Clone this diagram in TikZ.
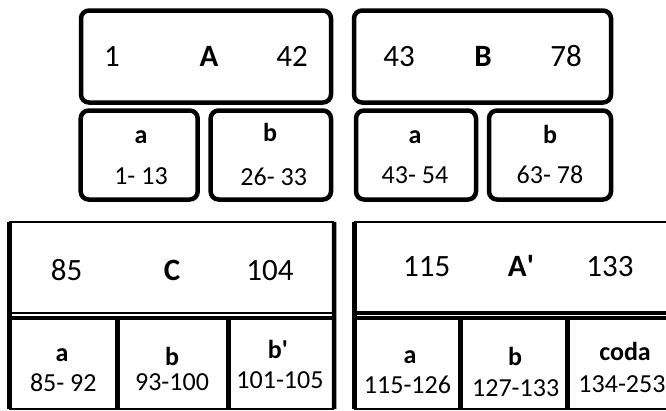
\documentclass[tikz,border=0pt]{standalone}
\usepackage{fontspec}
\setmainfont{Carlito}
\begin{document}
\begin{tikzpicture}[x=1pt,y=-1pt,
    secbox/.style={draw, line width=4.5pt, rounded corners=8pt, inner sep=0pt},
    cell/.style={inner sep=0pt},
    big/.style={font=\fontsize{31}{31}\selectfont, anchor=base, inner sep=0pt},
    bigb/.style={big, font=\fontsize{31}{31}\selectfont\bfseries},
    lab/.style={font=\fontsize{26}{26}\selectfont\bfseries, anchor=base, inner sep=0pt},
    rng/.style={font=\fontsize{26}{26}\selectfont, anchor=base, inner sep=0pt},
    heavy/.style={line width=4.5pt},
    light/.style={line width=1.6pt}]
    \clip (0,0) rectangle (666,410);
    % Section A
    \node[secbox, minimum width=250pt, minimum height=92pt] (A) at (206,56.5) {};
    \node[big] (A-lo) at (112,66.7) {1}; \node[bigb] (A-nm) at (209,66.7) {A}; \node[big] (A-hi) at (292,66.7) {42};
    \node[secbox, minimum width=117pt, minimum height=89pt] (Aa) at (139.2,155) {};
    \node[lab] (Aa-nm) at (141,143.3) {a}; \node[rng] (Aa-rg) at (141,184.3) {1- 13};
    \node[secbox, minimum width=120.4pt, minimum height=89pt] (Ab) at (270.8,155) {};
    \node[lab] (Ab-nm) at (270,141.7) {b}; \node[rng] (Ab-rg) at (273.7,185) {26- 33};
    % Section B
    \node[secbox, minimum width=257pt, minimum height=92pt] (B) at (482.5,56.5) {};
    \node[big] (B-lo) at (399,66) {43}; \node[bigb] (B-nm) at (483,66) {B}; \node[big] (B-hi) at (566,66) {78};
    \node[secbox, minimum width=120pt, minimum height=89pt] (Ba) at (416,155) {};
    \node[lab] (Ba-nm) at (415,143.3) {a}; \node[rng] (Ba-rg) at (415,183.3) {43- 54};
    \node[secbox, minimum width=122pt, minimum height=89pt] (Bb) at (550,155) {};
    \node[lab] (Bb-nm) at (550,143.3) {b}; \node[rng] (Bb-rg) at (550,183.3) {63- 78};
    % Section C (table)
    \node[cell, minimum width=324.5pt, minimum height=90.5pt] (C) at (171.75,267.25) {};
    \node[cell, minimum width=108pt, minimum height=91pt] (Ca) at (63.5,363.5) {};
    \node[cell, minimum width=110.8pt, minimum height=91pt] (Cb) at (172.9,363.5) {};
    \node[cell, minimum width=105.7pt, minimum height=91pt] (Cc) at (281.15,363.5) {};
    \draw[light] (C.north west) -- (C.north east);
    \draw[light] (C.south west) -- (C.south east);
    \draw[heavy] (Ca.north west) -- (Cc.north east);
    \draw[light] (Ca.south west) -- (Cc.south east);
    \draw[heavy] (C.north west) -- (Ca.south west);
    \draw[heavy] (C.north east) -- (Cc.south east);
    \draw[heavy] (Ca.north east) -- (Ca.south east);
    \draw[heavy] (Cb.north east) -- (Cb.south east);
    \node[big] (C-lo) at (66.7,280) {85}; \node[bigb] (C-nm) at (172,280) {C}; \node[big] (C-hi) at (270,280) {104};
    \node[lab] (Ca-nm) at (62,361.7) {a}; \node[rng] (Ca-rg) at (63.3,391.7) {85- 92};
    \node[lab] (Cb-nm) at (172,365) {b}; \node[rng] (Cb-rg) at (172,390) {93-100};
    \node[lab] (Cc-nm) at (278,358.3) {b\textquotesingle}; \node[rng] (Cc-rg) at (280,388.3) {101-105};
    % Section A' (table, runs past the right edge)
    \node[cell, minimum width=325.5pt, minimum height=91pt] (D) at (517.25,267.5) {};
    \node[cell, minimum width=106pt, minimum height=91pt] (Da) at (407.5,363.5) {};
    \node[cell, minimum width=107pt, minimum height=91pt] (Db) at (514,363.5) {};
    \node[cell, minimum width=112.5pt, minimum height=91pt] (Dc) at (623.75,363.5) {};
    \draw[light] (D.north west) -- (D.north east);
    \draw[heavy] (D.south west) -- (D.south east);
    \draw[heavy] (Da.north west) -- (Dc.north east);
    \draw[light] (Da.south west) -- (Dc.south east);
    \draw[heavy] (D.north west) -- (Da.south west);
    \draw[heavy] (D.north east) -- (Dc.south east);
    \draw[heavy] (Da.north east) -- (Da.south east);
    \draw[heavy] (Db.north east) -- (Db.south east);
    \node[big] (D-lo) at (426.7,276) {115}; \node[bigb] (D-nm) at (521,276) {A\textquotesingle}; \node[big] (D-hi) at (610,276) {133};
    \node[lab] (Da-nm) at (410,363.3) {a}; \node[rng] (Da-rg) at (407.5,393.3) {115-126};
    \node[lab] (Db-nm) at (515,365.7) {b}; \node[rng] (Db-rg) at (515.7,396) {127-133};
    \node[lab] (Dc-nm) at (625,360) {coda}; \node[rng] (Dc-rg) at (622,392.7) {134-253};
\end{tikzpicture}
\end{document}
